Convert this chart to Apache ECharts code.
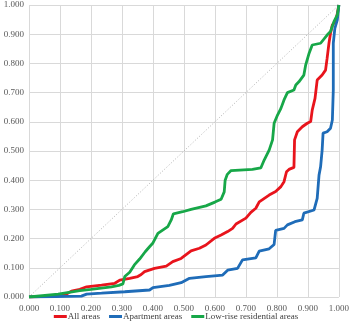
<!DOCTYPE html>
<html>
<head>
<meta charset="utf-8">
<script src="https://cdn.jsdelivr.net/npm/echarts@6/dist/echarts.min.js"></script>
<style>
html,body{margin:0;padding:0;background:#fff;}
#chart{width:352px;height:328px;}
</style>
</head>
<body>
<div id="chart"></div>
<script>
// Cumulative share curves (x: cumulative share, y: cumulative share)
const seriesNames = ['All areas', 'Apartment areas', 'Low-rise residential areas'];

const allAreas = [
  [0,0],[0.094,0.004],[0.121,0.010],[0.137,0.020],[0.164,0.026],[0.186,0.035],[0.234,0.041],
  [0.277,0.047],[0.293,0.058],[0.325,0.064],[0.351,0.070],[0.362,0.077],[0.373,0.087],
  [0.405,0.098],[0.443,0.106],[0.464,0.121],[0.491,0.132],[0.523,0.158],[0.550,0.167],
  [0.571,0.178],[0.598,0.201],[0.620,0.212],[0.641,0.224],[0.657,0.235],[0.668,0.250],
  [0.700,0.270],[0.716,0.290],[0.732,0.304],[0.743,0.326],[0.775,0.349],[0.796,0.361],
  [0.813,0.378],[0.823,0.395],[0.831,0.429],[0.839,0.437],[0.855,0.444],[0.857,0.538],
  [0.866,0.566],[0.882,0.583],[0.898,0.595],[0.909,0.601],[0.914,0.640],[0.923,0.680],
  [0.930,0.743],[0.946,0.760],[0.957,0.777],[0.962,0.817],[0.968,0.869],[0.973,0.903],
  [0.979,0.932],[0.989,0.943],[0.995,0.971],[1,1]
];

const apartmentAreas = [
  [0,0],[0.169,0.003],[0.186,0.010],[0.234,0.013],[0.309,0.018],[0.389,0.024],[0.400,0.032],
  [0.453,0.040],[0.491,0.049],[0.518,0.064],[0.571,0.070],[0.625,0.075],[0.641,0.092],
  [0.673,0.098],[0.689,0.127],[0.732,0.134],[0.743,0.157],[0.775,0.165],[0.791,0.180],
  [0.796,0.228],[0.823,0.235],[0.834,0.247],[0.858,0.258],[0.882,0.264],[0.887,0.287],
  [0.920,0.298],[0.930,0.338],[0.936,0.418],[0.941,0.446],[0.946,0.503],[0.949,0.561],
  [0.962,0.566],[0.973,0.578],[0.979,0.606],[0.982,0.709],[0.982,0.869],[0.987,0.920],
  [0.995,0.949],[1,1]
];

const lowRiseAreas = [
  [0,0],[0.094,0.010],[0.164,0.022],[0.200,0.026],[0.266,0.035],[0.290,0.040],[0.303,0.045],
  [0.309,0.070],[0.325,0.085],[0.340,0.110],[0.357,0.130],[0.375,0.155],[0.389,0.172],
  [0.400,0.185],[0.416,0.218],[0.448,0.241],[0.459,0.264],[0.466,0.285],[0.496,0.292],
  [0.523,0.300],[0.571,0.312],[0.600,0.325],[0.620,0.335],[0.630,0.360],[0.633,0.400],
  [0.640,0.420],[0.652,0.433],[0.721,0.437],[0.748,0.442],[0.759,0.469],[0.775,0.503],
  [0.786,0.538],[0.791,0.595],[0.802,0.623],[0.813,0.646],[0.823,0.675],[0.834,0.700],
  [0.855,0.709],[0.861,0.726],[0.871,0.737],[0.887,0.760],[0.893,0.795],[0.904,0.835],
  [0.914,0.863],[0.941,0.869],[0.962,0.897],[0.973,0.909],[0.984,0.943],[0.995,0.966],[1,1]
];

// Line of equality
const equality = [[0,0],[1,1]];

const colors = ['#e8141c', '#1f6cb8', '#17a748'];
const labelFont = { fontFamily: 'Liberation Serif', fontSize: 9, color: '#595959' };

const chart = echarts.init(document.getElementById('chart'), null, { renderer: 'canvas' });

function curve(name, data, color) {
  return {
    name: name, type: 'line', data: data, symbol: 'none', smooth: false,
    lineStyle: { color: color, width: 2.8 }, itemStyle: { color: color },
    emphasis: { disabled: true }, animation: false
  };
}

chart.setOption({
  animation: false,
  backgroundColor: '#fff',
  grid: { left: 29, right: 12, top: 5, bottom: 31, containLabel: false },
  legend: {
    data: seriesNames,
    bottom: 2,
    left: 'center',
    icon: 'rect',
    itemWidth: 13,
    itemHeight: 3,
    itemGap: 9,
    textStyle: Object.assign({}, labelFont, { color: '#404040', padding: [0, 0, 0, -4] })
  },
  xAxis: {
    type: 'value', min: 0, max: 1, interval: 0.1,
    axisLine: { show: false }, axisTick: { show: false },
    axisLabel: Object.assign({}, labelFont, { margin: 7, formatter: v => v.toFixed(3) }),
    splitLine: { show: true, lineStyle: { color: '#d9d9d9', width: 1 } }
  },
  yAxis: {
    type: 'value', min: 0, max: 1, interval: 0.1,
    axisLine: { show: false }, axisTick: { show: false },
    axisLabel: Object.assign({}, labelFont, { margin: 5, formatter: v => v.toFixed(3) }),
    splitLine: { show: true, lineStyle: { color: '#d9d9d9', width: 1 } }
  },
  series: [
    {
      name: 'equality', type: 'line', data: equality, symbol: 'none',
      lineStyle: { color: '#b0b0b0', width: 1, type: [1, 2] },
      emphasis: { disabled: true }, silent: true
    },
    curve(seriesNames[0], allAreas, colors[0]),
    curve(seriesNames[1], apartmentAreas, colors[1]),
    curve(seriesNames[2], lowRiseAreas, colors[2])
  ]
});
</script>
</body>
</html>
